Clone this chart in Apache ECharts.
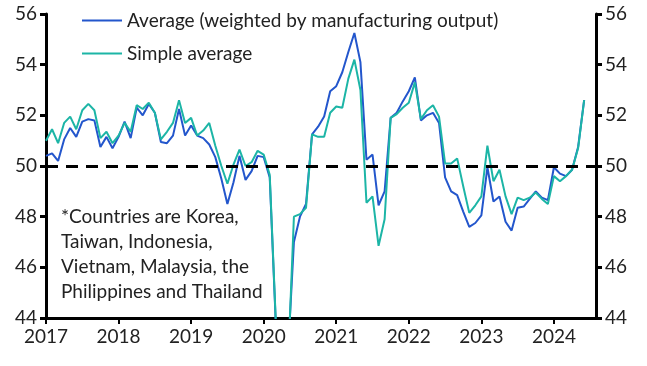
<!DOCTYPE html>
<html><head><meta charset="utf-8">
<script src="https://cdn.jsdelivr.net/npm/echarts@6/dist/echarts.min.js"></script>
<style>html,body{margin:0;padding:0;background:#fff}#c{width:647px;height:366px}</style>
</head><body><div id="c"></div>
<script>
const startYear = 2017;
const weighted = [50.4,50.5,50.2,51.05,51.5,51.15,51.75,51.85,51.8,50.75,51.15,50.7,
51.15,51.75,51.1,52.3,52.0,52.45,52.1,50.95,50.9,51.2,52.25,51.2,
51.6,51.2,51.1,50.85,50.35,49.5,48.5,49.35,50.4,49.45,49.8,50.4,
50.35,49.55,43.8,38.0,42.5,47.0,48.0,48.5,51.25,51.55,51.95,52.95,
53.15,53.7,54.5,55.25,54.1,50.25,50.45,48.45,49.0,51.9,52.1,52.55,
52.95,53.5,51.8,52.0,52.1,51.7,49.55,49.0,48.85,48.2,47.6,47.75,
48.05,49.95,48.6,48.8,47.8,47.45,48.35,48.4,48.7,49.0,48.75,48.65,
49.95,49.7,49.6,49.85,50.75,52.6];
const simple = [51.0,51.45,50.9,51.7,51.95,51.45,52.2,52.45,52.2,51.1,51.35,50.9,
51.2,51.7,51.35,52.4,52.25,52.5,52.1,51.05,51.35,51.7,52.6,51.7,
51.9,51.2,51.4,51.7,50.8,50.0,49.3,50.05,50.65,50.0,50.15,50.6,
50.45,49.65,43.9,37.5,42.0,48.0,48.1,48.35,51.25,51.15,51.15,52.1,
52.35,52.3,53.45,54.2,53.0,48.55,48.8,46.85,47.9,51.9,52.05,52.3,
52.5,53.3,51.85,52.2,52.4,51.95,50.1,50.1,50.3,49.2,48.15,48.45,
48.8,50.8,49.4,49.85,48.8,48.1,48.75,48.65,48.75,48.95,48.7,48.5,
49.6,49.4,49.6,49.85,50.7,52.6];
const yearTicks = [2017,2018,2019,2020,2021,2022,2023,2024];
const yTicks = [44,46,48,50,52,54,56];
const refLine = 50;
const seriesNames = ['Average (weighted by manufacturing output)','Simple average'];
const noteLines = ['*Countries are Korea,','Taiwan, Indonesia,','Vietnam, Malaysia, the','Philippines and Thailand'];

const toXY = arr => arr.map((v,i)=>[startYear + i/12, v]);
const font = 'Lato';
const fs = 19;
const axisLine = {show:true, lineStyle:{color:'#000', width:3}};
const axisTick = {show:true, length:6, lineStyle:{color:'#000', width:3}};
const yAxisBase = {
  type:'value', min:yTicks[0], max:yTicks[yTicks.length-1], interval:2,
  axisLine, axisTick, splitLine:{show:false},
  axisLabel:{color:'#222', fontSize:fs, fontFamily:font, margin:9}
};
const chart = echarts.init(document.getElementById('c'), null, {renderer:'canvas'});
chart.setOption({
  animation:false,
  grid:{left:46, right:51, top:14, bottom:48},
  legend:{
    orient:'vertical', left:77, top:6, itemGap:14, itemWidth:40, itemHeight:20,
    icon:'path://M0,9 L40,9 L40,11 L0,11 Z',
    textStyle:{fontSize:fs, fontFamily:font, color:'#222'},
    data:seriesNames
  },
  xAxis:{
    type:'value', min:startYear, max:2024.58, interval:1,
    axisLine, axisTick:{show:true, length:6, lineStyle:{color:'#000', width:2}}, splitLine:{show:false},
    axisLabel:{color:'#222', fontSize:fs, fontFamily:font, margin:9, showMaxLabel:false,
      formatter: v => yearTicks.includes(Math.round(v)) && Math.abs(v-Math.round(v))<1e-6 ? String(Math.round(v)) : ''}
  },
  yAxis:[
    Object.assign({}, yAxisBase, {position:'left'}),
    Object.assign({}, yAxisBase, {position:'right'})
  ],
  series:[
    {name:seriesNames[0], type:'line', data:toXY(weighted), symbol:'none',
     lineStyle:{color:'#2356cc', width:2}, itemStyle:{color:'#2356cc'}, z:3,
     markLine:{silent:true, symbol:'none', label:{show:false},
       lineStyle:{color:'#000', width:3, type:[12,8]}, data:[{yAxis:refLine}]}},
    {name:seriesNames[1], type:'line', data:toXY(simple), symbol:'none',
     lineStyle:{color:'#1cb5a6', width:2}, itemStyle:{color:'#1cb5a6'}, z:4}
  ],
  graphic:[{
    type:'text', left:61, top:204,
    style:{text:noteLines.join('\n'), font:fs+'px Lato', fill:'#222', lineHeight:25}
  }]
});
</script></body></html>
